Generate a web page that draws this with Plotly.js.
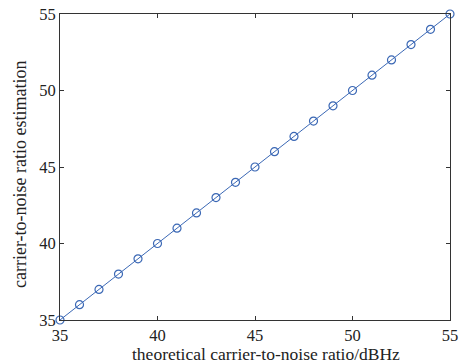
<!DOCTYPE html>
<html><head><meta charset="utf-8">
<script src="https://cdn.plot.ly/plotly-3.0.1.min.js"></script>
<style>html,body{margin:0;padding:0;background:#fff}#c{width:461px;height:364px}</style>
</head><body><div id="c"></div>
<script>
const theoretical = [35,36,37,38,39,40,41,42,43,44,45,46,47,48,49,50,51,52,53,54,55];
const estimated   = [35,36,37,38,39,40,41,42,43,44,45,46,47,48,49,50,51,52,53,54,55];
const tickVals = [35,40,45,50,55];
const xTitle = 'theoretical carrier-to-noise ratio/dBHz';
const yTitle = 'carrier-to-noise ratio estimation';
const serif = 'Liberation Serif, Times New Roman, serif';
const ax = {
  range:[35,55], tickvals:tickVals, ticks:'inside', ticklen:4, tickcolor:'#333',
  showline:true, linecolor:'#333', linewidth:1, mirror:'ticks', showgrid:false, zeroline:false,
  tickfont:{family:serif, size:16.5, color:'#222'}
};
Plotly.newPlot('c', [{
  x: theoretical, y: estimated, mode:'lines+markers', type:'scatter',
  line:{color:'#3b68b5', width:1},
  marker:{symbol:'circle-open', size:8, color:'#3b68b5', line:{width:1.2}},
  cliponaxis:false
}], {
  width:461, height:364, margin:{l:60, r:11, t:14, b:44},
  paper_bgcolor:'#fff', plot_bgcolor:'#fff', showlegend:false,
  xaxis:Object.assign({}, ax, {ticklabelstandoff:0}),
  yaxis:Object.assign({}, ax),
  annotations:[
    {text:xTitle, xref:'paper', yref:'paper', x:0.528, y:0, xanchor:'center', yanchor:'top',
     yshift:-23, showarrow:false, borderpad:0, font:{family:serif, size:17.5, color:'#222'}},
    {text:yTitle, xref:'paper', yref:'paper', x:0, y:0.477, xanchor:'right', yanchor:'middle',
     xshift:-29, textangle:-90, showarrow:false, borderpad:0, font:{family:serif, size:18, color:'#222'}}
  ]
}, {staticPlot:true});
</script></body></html>
